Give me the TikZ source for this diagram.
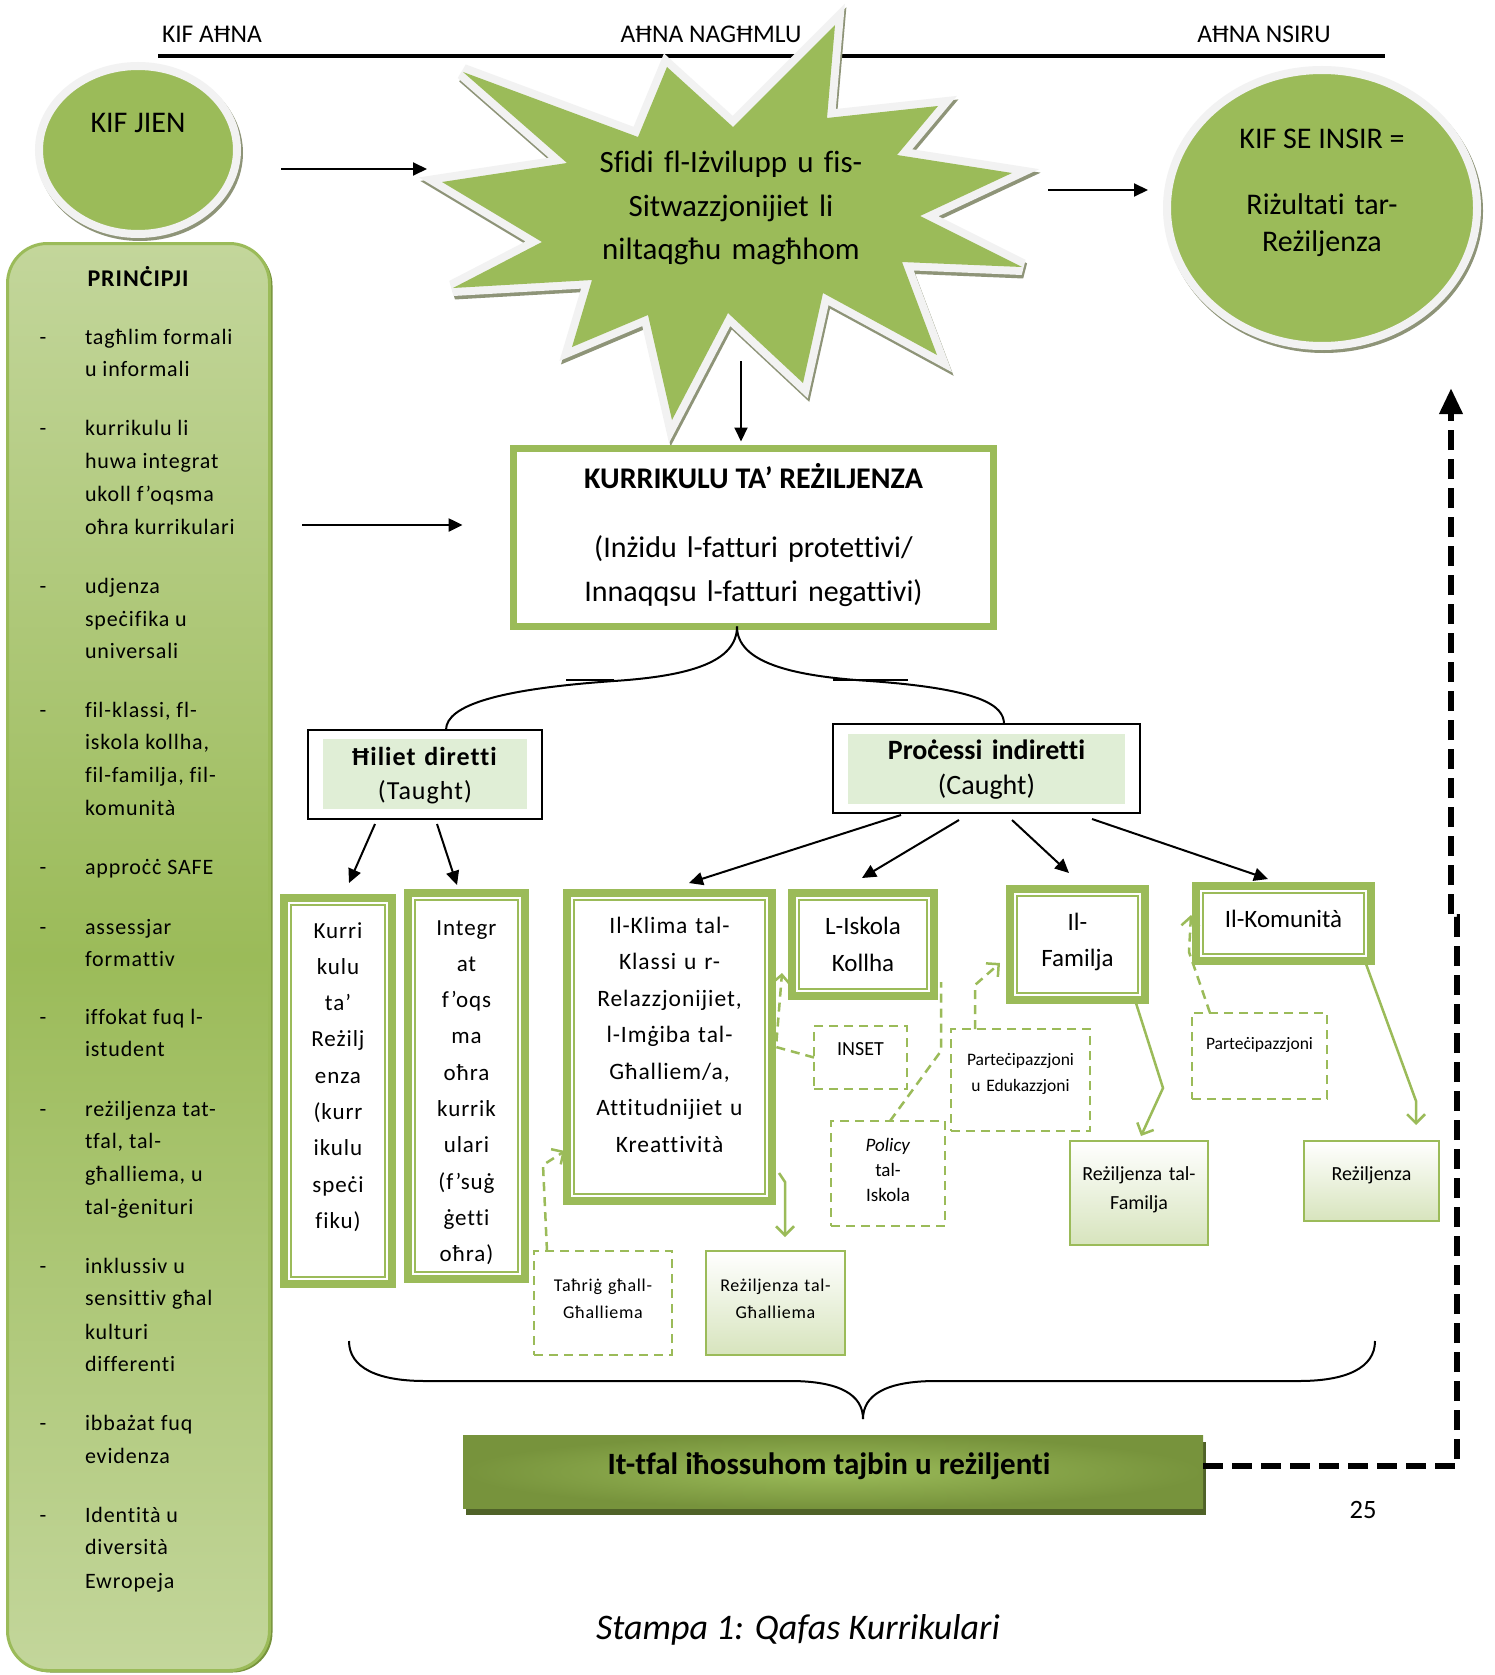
\documentclass[tikz,border=0pt]{standalone}
\usepackage{fontspec}
\setmainfont{Carlito}[Ligatures=NoCommon]
\newfontfamily\widefont[LetterSpace=4,Ligatures=NoCommon]{Carlito}
\usetikzlibrary{arrows.meta,shapes.geometric}
\definecolor{G}{HTML}{9BBB59}
\definecolor{LG}{HTML}{C3D69B}
\definecolor{DG}{HTML}{77933C}
\definecolor{DDG}{HTML}{4F6228}
\definecolor{PALE}{HTML}{E0EED6}
\definecolor{RZ}{HTML}{D7E4BD}
\definecolor{RING}{HTML}{F2F2F2}
\definecolor{SH}{HTML}{8E9478}
\newcommand{\setfs}[2]{\fontsize{#1pt}{#2pt}\selectfont}
\begin{document}
\begin{tikzpicture}[x=1pt,y=-1pt,
  every node/.style={inner sep=0pt,outer sep=0pt},
  hdr/.style={font=\setfs{25.5}{30}},
  lst/.style={font=\widefont\setfs{22}{32.7}},
  wtxt/.style={font=\widefont\setfs{23}{36.3},align=center,text width=200pt,anchor=base},
  ctxt/.style={align=center,text width=260pt,anchor=base},
  dbox/.style={draw=G,line width=8pt,fill=white},
  blkbox/.style={draw=black,line width=2pt,fill=white},
  dashbox/.style={draw=G,line width=2.5pt,dash pattern=on 9pt off 6pt},
  rbox/.style={draw=G,line width=2.5pt,top color=white,bottom color=RZ},
  barr/.style={draw=black,line width=2pt,-{Triangle[length=14pt,width=13pt]}},
  garr/.style={draw=G,line width=2.5pt,-{Straight Barb[length=9pt,width=18pt]}},
  gdash/.style={draw=G,line width=2.5pt,dash pattern=on 9pt off 6pt},
  gdarr/.style={gdash,-{Straight Barb[length=9pt,width=18pt]}}]
\useasboundingbox (0,0) rectangle (1495,1675);
\fill[white] (0,0) rectangle (1495,1675);

% header
\node[hdr,anchor=base west] (h1) at (162,43) {KIF AĦNA};
\node[hdr,anchor=base] (h2) at (711,43) {AĦNA NAGĦMLU};
\node[hdr,anchor=base] (h3) at (1264,43) {AĦNA NSIRU};
\draw[line width=4pt] (158,56) -- (1385,56);

% starburst
\draw[SH,line width=16pt,line join=miter,miter limit=4] plot coordinates {(464.5,75.5) (639.5,140.5) (668.5,70.5) (734.5,130.5) (836.5,28.5) (828.5,121.5) (939.5,109.5) (898.5,158.5) (1013.5,176.5) (921.5,219.5) (1023.5,270.5) (903.5,265.5) (938.5,358.5) (824.5,296.5) (804.5,386.5) (729.5,316.5) (673.5,423.5) (649.5,318.5) (573.5,350.5) (593.5,283.5) (454.5,291.5) (543.5,245.5) (443.5,185.5) (568.5,166.5)} -- cycle;
\fill[G,preaction={draw=RING,line width=16pt,line join=miter,miter limit=4}] plot coordinates {(463,72) (638,137) (667,67) (733,127) (835,25) (827,118) (938,106) (897,155) (1012,173) (920,216) (1022,267) (902,262) (937,355) (823,293) (803,383) (728,313) (672,420) (648,315) (572,347) (592,280) (453,288) (542,242) (442,182) (567,163)} -- cycle;
\node[font=\setfs{31}{43.5},ctxt,text width=320pt] (sbt) at (731,172.5) {Sfidi fl-Iżvilupp u fis-\\Sitwazzjonijiet li\\niltaqgħu magħhom};

% circles
\fill[SH] (140,153) ellipse (103 and 88);
\node[ellipse,draw=RING,line width=8pt,fill=G,minimum width=198pt,minimum height=168pt] (jien) at (138,150) {};
\node[font=\setfs{30}{36},anchor=base] (jient) at (138,132) {KIF JIEN};
\fill[SH] (1324,211) ellipse (159 and 142);
\node[ellipse,draw=RING,line width=8pt,fill=G,minimum width=310pt,minimum height=276pt] (insir) at (1322,208) {};
\node[font=\setfs{30}{36},anchor=base] (insir1) at (1322,149) {KIF SE INSIR =};
\node[font=\setfs{30}{37},ctxt] (insir2) at (1322,214) {Riżultati tar-\\Reżiljenza};

% principles column
\node[rounded corners=40pt,fill=DG,minimum width=262pt,minimum height=1427pt] (prinsh) at (141.5,959) {};
\node[draw=G,line width=3pt,rounded corners=40pt,top color=LG,bottom color=LG,middle color=G,minimum width=262pt,minimum height=1427pt] (prin) at (138.5,957) {};
\node[font=\widefont\bfseries\setfs{24}{28},anchor=base] (print) at (138,286) {PRINĊIPJI};
\foreach \ly [count=\i] in {338,429,587,711,868,928,1018,1110,1267,1424,1516}
  \node[lst,anchor=base] (dash\i) at (43,\ly+6.5) {-};
\foreach \ly/\lt [count=\i] in {338/{tagħlim formali},370/{u informali},429/{kurrikulu li},462/{huwa integrat},495/{ukoll f’oqsma},528/{oħra kurrikulari},587/{udjenza},620/{speċifika u},652/{universali},711/{fil-klassi, fl-},743/{iskola kollha,},776/{fil-familja, fil-},809/{komunità},868/{approċċ SAFE},928/{assessjar},960/{formattiv},1018/{iffokat fuq l-},1050/{istudent},1110/{reżiljenza tat-},1142/{tfal, tal-},1175/{għalliema, u},1208/{tal-ġenituri},1267/{inklussiv u},1299/{sensittiv għal},1333/{kulturi},1365/{differenti},1424/{ibbażat fuq},1457/{evidenza},1516/{Identità u},1548/{diversità},1582/{Ewropeja}}
  \node[lst,anchor=base west] (li\i) at (85,\ly+6.5) {\lt};

% arrows top
\coordinate (aj1) at (281,169); \coordinate (aj2) at (427,169);
\draw[barr] (aj1) -- (aj2);
\coordinate (ai1) at (1048,190); \coordinate (ai2) at (1148,190);
\draw[barr] (ai1) -- (ai2);
\coordinate (ak1) at (741,361);
\coordinate (ap1) at (302,525);

% curriculum box
\node[draw=G,line width=7pt,fill=white,minimum width=480pt,minimum height=178pt] (kurr) at (753.5,537.5) {};
\node[font=\bfseries\setfs{30}{36},anchor=base] (kurrh) at (753.5,488) {KURRIKULU TA’ REŻILJENZA};
\node[font=\setfs{30}{44},ctxt,text width=420pt] (kurrs) at (753.5,557) {(Inżidu l-fatturi protettivi/\\Innaqqsu l-fatturi negattivi)};
\draw[barr] (ak1) -- ([shift={(-12.5,-7)}]kurr.north);
\draw[barr,line width=2.5pt] (ap1) -- ([shift={(-51,-12.5)}]kurr.west);

% Hiliet / Processi
\node[blkbox,minimum width=234pt,minimum height=89pt] (hil) at (425,774.5) {};
\fill[PALE] (323,739) rectangle (527,809);
\node[font=\widefont\setfs{26}{34},ctxt,text width=220pt] (hilt) at (425,765.5) {\textbf{Ħiliet diretti}\\(Taught)};
\node[blkbox,minimum width=307pt,minimum height=89pt] (pro) at (986.5,768.5) {};
\fill[PALE] (848,734) rectangle (1125,804);
\node[font=\setfs{28}{35},ctxt] (prot) at (986.5,759.5) {\textbf{Proċessi indiretti}\\(Caught)};

% brace below curriculum
\draw[line width=2pt] (kurr.south -| 737,0) .. controls (737,662) and (690,676) .. (614,681) .. controls (500,689) and (446,705) .. (hil.north -| 446,0);
\draw[line width=2pt] (kurr.south -| 737,0) .. controls (737,662) and (790,676) .. (870,681) .. controls (980,689) and (1004,705) .. (pro.north -| 1004,0);
\draw[line width=2.5pt] (566,680) -- (614,680);
\draw[line width=2.5pt] (833,680) -- (908,680);

% double boxes
\node[dbox,minimum width=108pt,minimum height=386pt] (kur) at (338,1091) {};
\node[dbox,minimum width=117pt,minimum height=386pt] (integ) at (466.5,1086) {};
\node[dbox,minimum width=205pt,minimum height=308pt] (klima) at (669.5,1047) {};
\node[dbox,minimum width=142pt,minimum height=103pt] (iskola) at (863,944.5) {};
\node[dbox,minimum width=135pt,minimum height=111pt] (familja) at (1077.5,944.5) {};
\node[dbox,minimum width=175pt,minimum height=75pt] (komunita) at (1283.5,923.5) {};
\foreach \n in {kur,integ,klima,iskola,familja,komunita}
  \draw[G,line width=2pt] ([shift={(7.3,7.3)}]\n.north west) rectangle ([shift={(-7.3,-7.3)}]\n.south east);
\node[wtxt] (kurt) at (338,938) {Kurri\\kulu\\ta’\\Reżilj\\enza\\(kurr\\ikulu\\speċi\\fiku)};
\node[wtxt] (integt) at (466.5,935) {Integr\\at\\f’oqs\\ma\\oħra\\kurrik\\ulari\\(f’suġ\\ġetti\\oħra)};
\node[wtxt,font=\widefont\setfs{23.5}{36.5}] (klimat) at (669.5,933) {Il-Klima tal-\\Klassi u r-\\Relazzjonijiet,\\l-Imġiba tal-\\Għalliem/a,\\Attitudnijiet u\\Kreattività};
\node[font=\setfs{25}{37.5},ctxt,text width=140pt] (iskolat) at (863,934) {L-Iskola\\Kollha};
\node[font=\setfs{25}{35.5},ctxt,text width=130pt] (familjat) at (1077.5,930.5) {Il-\\Familja};
\node[font=\setfs{25}{30},anchor=base] (komunitat) at (1283.5,927.5) {Il-Komunità};

% arrows from Hiliet / Processi
\draw[barr] ([shift={(-50,5)}]hil.south) -- ([shift={(11,-15)}]kur.north);
\draw[barr] ([shift={(12,5)}]hil.south) -- ([shift={(-9.5,-8)}]integ.north);
\draw[barr] ([shift={(-85.5,2)}]pro.south) -- ([shift={(19.5,-10)}]klima.north);
\draw[barr] ([shift={(-27.5,7)}]pro.south) -- ([shift={(-1,-15)}]iskola.north);
\draw[barr] ([shift={(25.5,7)}]pro.south) -- ([shift={(-8.5,-16)}]familja.north);
\draw[barr] ([shift={(105.5,6)}]pro.south) -- ([shift={(-15.5,-7)}]komunita.north);

% dashed boxes
\node[dashbox,minimum width=93pt,minimum height=63pt] (inset) at (860.5,1057.5) {};
\node[font=\setfs{20}{24},anchor=base] (insett) at (860.5,1055) {INSET};
\node[dashbox,minimum width=139pt,minimum height=102pt] (ped) at (1020.5,1080) {};
\node[font=\setfs{17.5}{26},ctxt,text width=135pt] (pedt) at (1020.5,1065.5) {Parteċipazzjoni\\u Edukazzjoni};
\node[dashbox,minimum width=114pt,minimum height=105pt] (pol) at (888,1173.5) {};
\node[font=\setfs{19}{25},ctxt,text width=110pt] (polt) at (888,1151) {\textit{Policy}\\tal-\\Iskola};
\node[dashbox,minimum width=135pt,minimum height=86pt] (par) at (1259.5,1056) {};
\node[font=\setfs{17.5}{26},anchor=base] (part) at (1259.5,1049.5) {Parteċipazzjoni};
\node[dashbox,minimum width=138pt,minimum height=104pt] (tah) at (603,1303) {};
\node[font=\widefont\setfs{18}{27},ctxt,text width=135pt] (taht) at (603,1291.5) {Taħriġ għall-\\Għalliema};

% result boxes
\node[rbox,minimum width=139pt,minimum height=104pt] (rg) at (775.5,1303) {};
\node[font=\widefont\setfs{18}{27},ctxt,text width=135pt] (rgt) at (775.5,1291.5) {Reżiljenza tal-\\Għalliema};
\node[rbox,minimum width=138pt,minimum height=104pt] (rf) at (1139,1193) {};
\node[font=\setfs{20}{29},ctxt,text width=135pt] (rft) at (1139,1180) {Reżiljenza tal-\\Familja};
\node[rbox,minimum width=135pt,minimum height=80pt] (rr) at (1371.5,1181) {};
\node[font=\setfs{20}{24},anchor=base] (rrt) at (1371.5,1180) {Reżiljenza};

% green connectors
\draw[garr] ([shift={(7,-28)}]klima.south east) -- (785,1182) -- ([shift={(9.5,-14)}]rg.north);
\draw[garr] ([shift={(57.5,0)}]familja.south) -- (1163,1088) -- ([shift={(2,-5)}]rf.north);
\draw[garr] ([shift={(-5,3)}]komunita.south east) -- (1416,1101) -- ([shift={(44.5,-16)}]rr.north);
\draw[gdarr] ([shift={(-56,0)}]tah.north) -- (543,1165) -- ([shift={(-2,-4)}]klima.south west |- 0,1155);
\draw[gdarr] (inset.west) -- (776,1047) -- (782,973);
\draw[gdash] ([shift={(2,0)}]pol.north) -- (941,1051) -- (941,982);
\draw[gdarr] ([shift={(-45.5,0)}]ped.north) -- (975,985) -- (1000,963);
\draw[gdarr] ([shift={(-49.5,0)}]par.north) -- (1189,952) -- (1191,915);

% bottom brace
\draw[line width=2pt] (349,1341) .. controls (349,1368) and (378,1381) .. (425,1381) -- (790,1381) .. controls (840,1381) and (863,1395) .. (863,1419);
\draw[line width=2pt] (1375,1341) .. controls (1375,1368) and (1346,1381) .. (1299,1381) -- (936,1381) .. controls (886,1381) and (863,1395) .. (863,1419);

% banner
\fill[DDG] (466,1442) rectangle (1206,1515);
\node[shading=radial,inner color=G,outer color=DG,minimum width=740pt,minimum height=73pt] (ban) at (833,1471.5) {};
\node[font=\bfseries\setfs{31}{36},anchor=base] (bant) at (829,1474) {It-tfal iħossuhom tajbin u reżiljenti};

% return dashed arrow
\draw[line width=6.5pt,dash pattern=on 20pt off 9pt,-{Triangle[length=26pt,width=22pt]}] (ban.east |- 0,1466) -- (1457,1466) -- (1457,917) -- (1451,917) -- (1451,388);

\node[font=\setfs{26.5}{30},anchor=base] (pg) at (1363,1518.5) {25};
\node[font=\itshape\setfs{36}{40},anchor=base] (cap) at (798,1639.5) {Stampa 1: Qafas Kurrikulari};
\end{tikzpicture}
\end{document}
